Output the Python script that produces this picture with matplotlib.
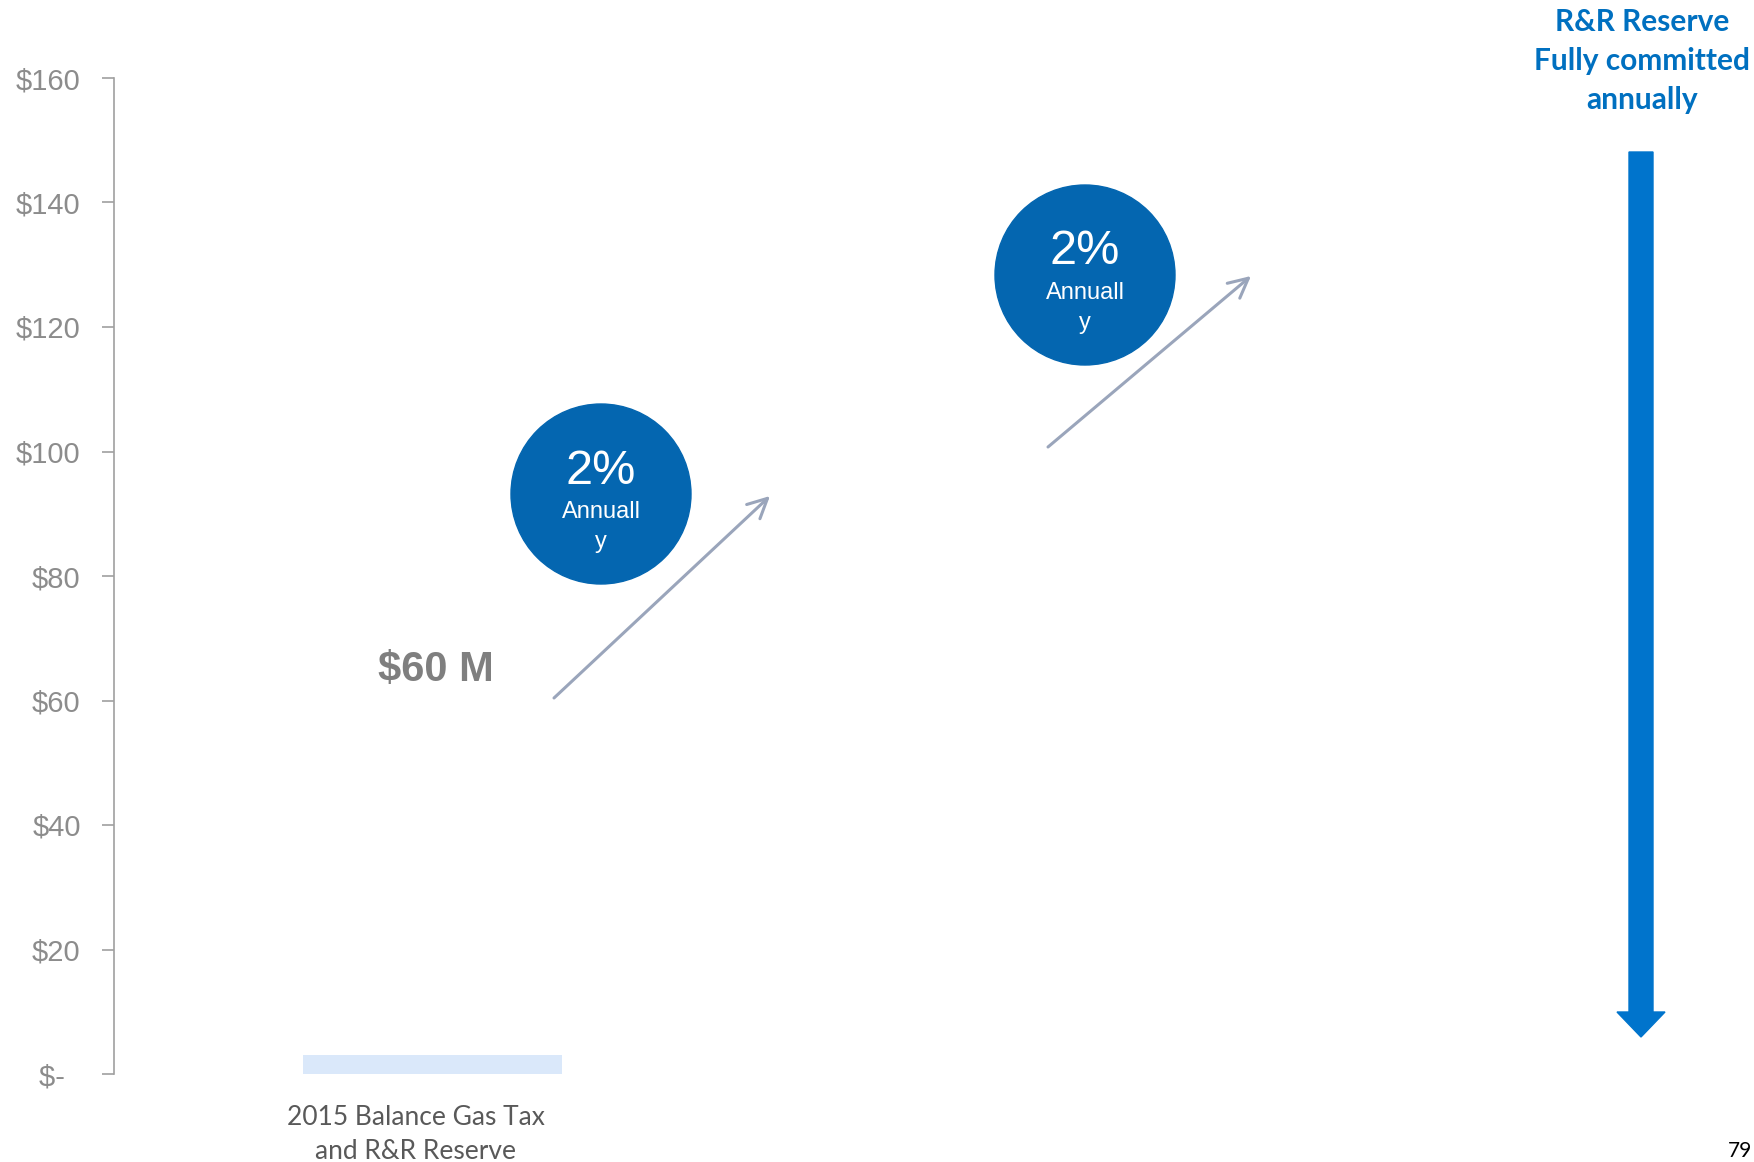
import numpy as np
import matplotlib.pyplot as plt
import matplotlib.transforms as mtransforms
from matplotlib.patches import Circle, Polygon

# values
categories = ["2015 Balance Gas Tax\nand R&R Reserve"]
balance = [3]
y_ticks = [0, 20, 40, 60, 80, 100, 120, 140, 160]
y_labels = ["$-  ", "$20", "$40", "$60", "$80", "$100", "$120", "$140", "$160"]
total_label = "$60 M"
growth_rate = ["2%", "2%"]
growth_note = ["Annuall", "y"]
reserve_note = "R&R Reserve\nFully committed\nannually"
page_no = "79"

W, H = 1754, 1162
fig = plt.figure(figsize=(W / 100, H / 100), dpi=100)
fig.patch.set_facecolor('white')

ax = fig.add_axes([114 / W, (H - 1074) / H, 1 - 114 / W, (1074 - 78) / H])
x = np.arange(len(categories))
ax.bar(x, balance, width=0.6, color='#DAE8FA', zorder=2)
ax.set_xlim(-0.74, 3.07)
ax.set_ylim(0, 160)
ax.set_yticks(y_ticks)
ax.set_yticklabels(y_labels, fontsize=21, color='#8C8C8C', family='Liberation Sans')
ax.tick_params(axis='y', length=9, width=1.2, color='#A0A0A0', pad=15)
ax.set_xticks(x)
ax.set_xticklabels(categories, fontsize=19, color='#595959', family='Lato',
                   linespacing=1.45)
ax.tick_params(axis='x', length=0, pad=22)
off = mtransforms.ScaledTranslation(-17 / 100, 0, fig.dpi_scale_trans)
for lbl in ax.get_xticklabels():
    lbl.set_transform(lbl.get_transform() + off)
for s in ['top', 'right', 'bottom']:
    ax.spines[s].set_visible(False)
ax.spines['left'].set_color('#A0A0A0')
ax.spines['left'].set_linewidth(1.2)

# overlay in pixel units for the callouts
ov = fig.add_axes([0, 0, 1, 1])
ov.set_xlim(0, W)
ov.set_ylim(H, 0)
ov.axis('off')
ov.patch.set_alpha(0)

ov.text(436, 670, total_label, fontsize=30, fontweight='bold', color='#7F7F7F',
        family='Liberation Sans', ha='center', va='center')

arrows = [((554, 698), (770, 496)), ((1048, 447), (1251, 276))]
for (x0, y0), (x1, y1) in arrows:
    ov.annotate('', xy=(x1, y1), xytext=(x0, y0),
                arrowprops=dict(arrowstyle='->,head_length=0.7,head_width=0.35',
                                color='#9AA5BB', lw=2.2, mutation_scale=20,
                                shrinkA=0, shrinkB=0))

centers = [(601, 494), (1085, 275)]
for (cx, cy), rate in zip(centers, growth_rate):
    ov.add_patch(Circle((cx, cy), 90, color='#0466B0', zorder=3))
    ov.text(cx, cy - 23, rate, fontsize=35, color='white', family='Liberation Sans',
            ha='center', va='center', zorder=4)
    ov.text(cx, cy + 24, growth_note[0], fontsize=17, color='white',
            family='Liberation Sans', ha='center', va='baseline', zorder=4)
    ov.text(cx, cy + 54, growth_note[1], fontsize=17, color='white',
            family='Liberation Sans', ha='center', va='baseline', zorder=4)

# big downward arrow
shaft_l, shaft_r, top, head_y, tip = 1629, 1653, 152, 1012, 1037
ov.add_patch(Polygon([(shaft_l, top), (shaft_r, top), (shaft_r, head_y), (1665, head_y),
                      (1641, tip), (1617, head_y), (shaft_l, head_y)],
                     closed=True, color='#0074CC', zorder=3))
for i, line in enumerate(reserve_note.split('\n')):
    ov.text(1642, 22 + 39 * i, line, fontsize=21.5, fontweight='bold', color='#0070C0',
            family='Lato', ha='center', va='center')

ov.text(1752, 1161, page_no, fontsize=15, color='black', family='Lato',
        ha='right', va='bottom')

fig.savefig('out.png', dpi=100)
